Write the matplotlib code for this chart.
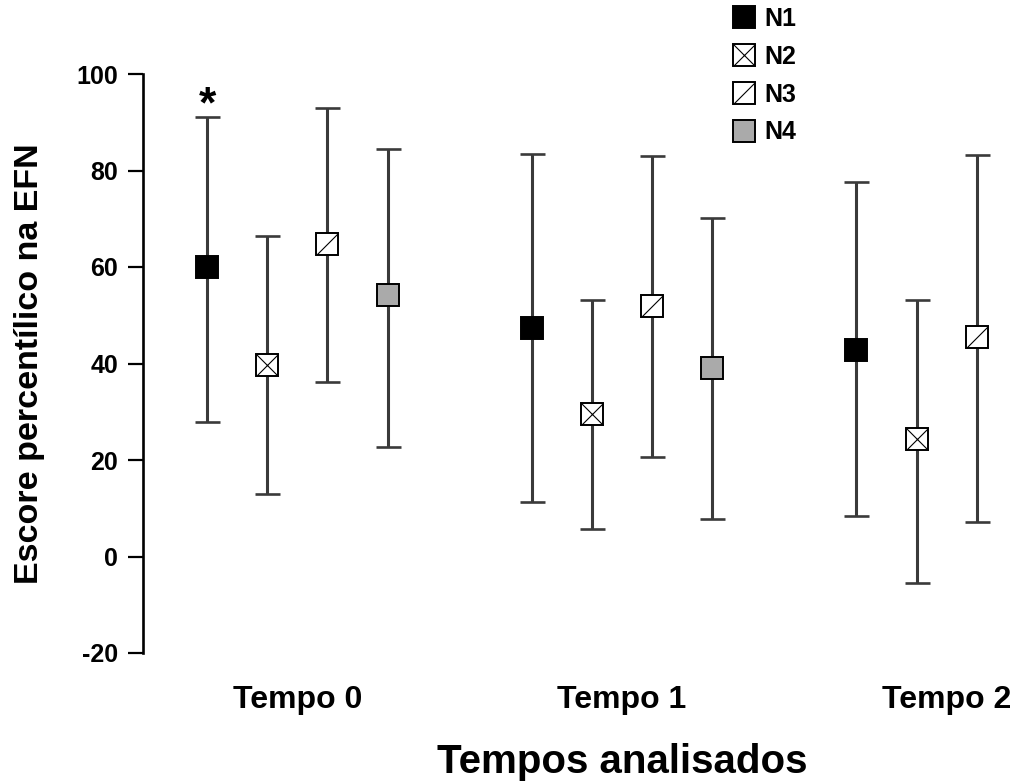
import numpy as np
import matplotlib
matplotlib.use('Agg')
import matplotlib.pyplot as plt
from matplotlib.path import Path
from matplotlib.lines import Line2D
from matplotlib.legend_handler import HandlerTuple

plt.rcParams['font.family'] = ['Liberation Sans', 'DejaVu Sans']
plt.rcParams['font.weight'] = 'bold'
plt.rcParams['axes.unicode_minus'] = False

# dados
tempos = ['Tempo 0', 'Tempo 1', 'Tempo 2']
grupos = ['N1', 'N2', 'N3', 'N4']

media_n1 = [59.9, 47.4, 42.9]
media_n2 = [39.7, 29.6, 24.3]
media_n3 = [64.8, 52.0, 45.4]
media_n4 = [54.1, 39.0]

sup_n1 = [91.1, 83.4, 77.6]
sup_n2 = [66.4, 53.1, 53.1]
sup_n3 = [93.0, 83.0, 83.2]
sup_n4 = [84.5, 70.2]

inf_n1 = [27.9, 11.2, 8.3]
inf_n2 = [13.0, 5.7, -5.4]
inf_n3 = [36.2, 20.6, 7.2]
inf_n4 = [22.6, 7.7]

medias = [media_n1, media_n2, media_n3, media_n4]
sups = [sup_n1, sup_n2, sup_n3, sup_n4]
infs = [inf_n1, inf_n2, inf_n3, inf_n4]

deslocamento = [-0.278, -0.093, 0.093, 0.278]

# marcadores: quadrado com X e quadrado com diagonal
caminho_x = Path([(-1, -1), (1, 1), (-1, 1), (1, -1)],
                 [Path.MOVETO, Path.LINETO, Path.MOVETO, Path.LINETO])
caminho_diag = Path([(-1, -1), (1, 1)], [Path.MOVETO, Path.LINETO])
cores = ['black', 'white', 'white', '#aaaaaa']
extras = [None, caminho_x, caminho_diag, None]

MS = 16
fig = plt.figure(figsize=(10.16, 7.82), dpi=100)
ax = fig.add_axes([143/1016, 129/782, 958/1016, 579/782])

handles = []
for i in range(4):
    n = len(medias[i])
    x = np.arange(n) + deslocamento[i]
    m = np.array(medias[i])
    erro = [m - np.array(infs[i]), np.array(sups[i]) - m]
    eb = ax.errorbar(x, m, yerr=erro, fmt='none', ecolor='#3a3a3a', elinewidth=2.2,
                     capsize=9, capthick=1.9, zorder=2)
    for c in eb[1]:
        c.set_color('black')
    ax.plot(x, m, 's', ms=MS, mfc=cores[i], mec='black', mew=1.4, zorder=3)
    h = [Line2D([], [], marker='s', ms=MS, mfc=cores[i], mec='black', mew=1.4, ls='none')]
    if extras[i] is not None:
        ax.plot(x, m, marker=extras[i], ms=MS, mfc='none', mec='black', mew=0.8,
                ls='none', zorder=4)
        h.append(Line2D([], [], marker=extras[i], ms=MS, mfc='none', mec='black',
                        mew=0.8, ls='none'))
    handles.append(tuple(h))

ax.text(deslocamento[0], 91.0, '*', ha='center', va='baseline', fontsize=32,
        fontweight='bold')

ax.set_ylim(-20, 100)
ax.set_xlim(-0.475, 2.475)
ax.set_yticks([-20, 0, 20, 40, 60, 80, 100])
ax.set_xticks([0, 1, 2])
ax.set_xticklabels(tempos)
ax.tick_params(axis='y', labelsize=18, length=11, width=1.6, pad=7)
ax.tick_params(axis='x', labelsize=23, length=0, pad=23)
for s in ['top', 'right', 'bottom']:
    ax.spines[s].set_visible(False)
ax.spines['left'].set_linewidth(1.9)

ax.set_xlabel('Tempos analisados', fontsize=29, fontweight='bold', labelpad=20)
ax.set_ylabel('Escore percentílico na EFN', fontsize=24.5, fontweight='bold')
ax.yaxis.set_label_coords(-0.102, 0.5)

fig.legend(handles, grupos, loc='upper left', bbox_to_anchor=(731/1016, 1 - 7/782),
           frameon=False, fontsize=18, handlelength=1.0, handletextpad=0.35,
           labelspacing=0.55, borderpad=0, borderaxespad=0,
           handler_map={tuple: HandlerTuple(ndivide=1)})

fig.savefig('out.png', dpi=100)
